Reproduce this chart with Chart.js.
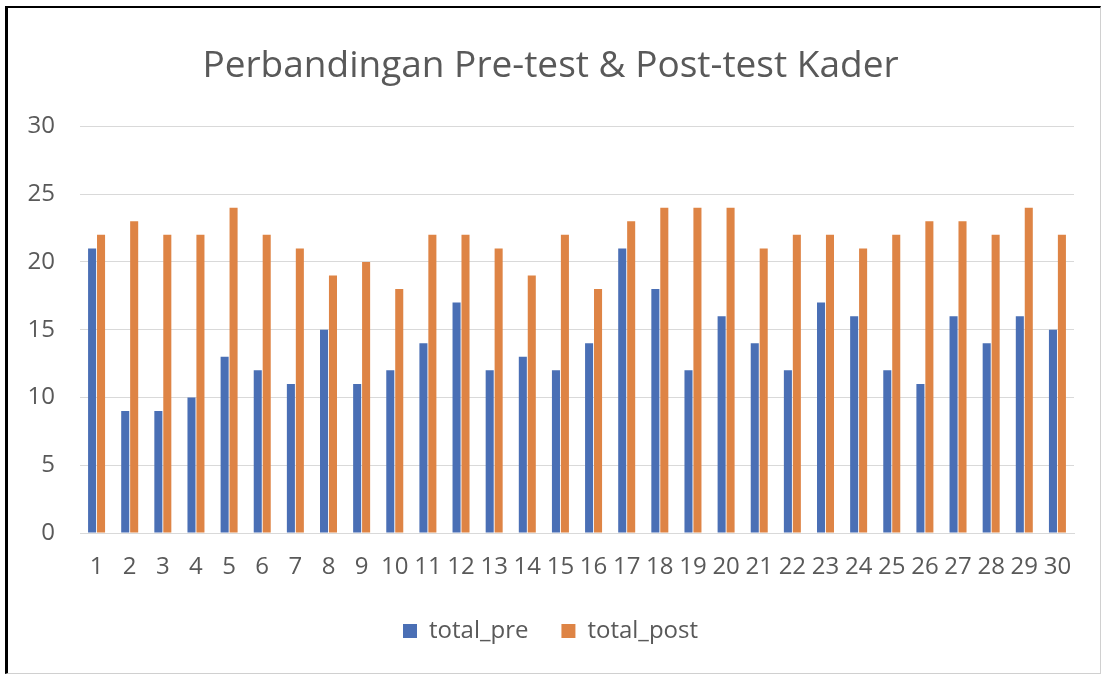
<!DOCTYPE html>
<html>
<head>
<meta charset="utf-8">
<script src="https://cdn.jsdelivr.net/npm/chart.js@4"></script>
<style>
    html, body { margin: 0; padding: 0; background: #fff; }
    #frame {
        position: absolute; left: 5px; top: 6px; width: 1092px; height: 665px;
        border-left: 3px solid #000; border-top: 2px solid #000;
        border-right: 1px solid #d0d0d0; border-bottom: 1px solid #d0d0d0;
    }
    #wrap { position: absolute; left: 0; top: 0; width: 1102px; height: 675px; }
</style>
</head>
<body>
<div id="frame"></div>
<div id="wrap"><canvas id="kaderChart" width="1102" height="675"></canvas></div>
<script>
// nilai dibaca dari gambar referensi
const respondents = ['1','2','3','4','5','6','7','8','9','10','11','12','13','14','15',
                     '16','17','18','19','20','21','22','23','24','25','26','27','28','29','30'];
const totalPre  = [21, 9, 9, 10, 13, 12, 11, 15, 11, 12, 14, 17, 12, 13, 12,
                   14, 21, 18, 12, 16, 14, 12, 17, 16, 12, 11, 16, 14, 16, 15];
const totalPost = [22, 23, 22, 22, 24, 22, 21, 19, 20, 18, 22, 22, 21, 19, 22,
                   18, 23, 24, 24, 24, 21, 22, 22, 21, 22, 23, 23, 22, 24, 22];

const textGrey = '#595959';
const gridGrey = '#d9d9d9';
const fontFamily = '"Open Sans", "Noto Sans", sans-serif';

const ctx = document.getElementById('kaderChart').getContext('2d');
new Chart(ctx, {
    type: 'bar',
    data: {
        labels: respondents,
        datasets: [
            {
                label: 'total_pre',
                data: totalPre,
                backgroundColor: '#4A6FB5',
                barPercentage: 0.9,
                categoryPercentage: 0.54
            },
            {
                label: 'total_post',
                data: totalPost,
                backgroundColor: '#DE8445',
                barPercentage: 0.9,
                categoryPercentage: 0.54
            }
        ]
    },
    options: {
        responsive: false,
        animation: false,
        layout: {
            padding: { left: 27, right: 28, top: 44, bottom: 22 }
        },
        plugins: {
            title: {
                display: true,
                text: 'Perbandingan Pre-test & Post-test Kader',
                color: textGrey,
                font: { family: fontFamily, size: 37, weight: 'normal' },
                padding: { top: 0, bottom: 38 }
            },
            legend: {
                position: 'bottom',
                labels: {
                    color: textGrey,
                    boxWidth: 14,
                    boxHeight: 14,
                    padding: 33,
                    font: { family: fontFamily, size: 24 }
                }
            },
            tooltip: { enabled: false }
        },
        scales: {
            x: {
                grid: { display: false, drawTicks: false },
                border: { display: true, color: gridGrey },
                ticks: {
                    color: textGrey,
                    maxRotation: 0,
                    autoSkip: false,
                    padding: 20,
                    font: { family: fontFamily, size: 24 }
                },
                afterFit: (scale) => { scale.height = 53; }
            },
            y: {
                min: 0,
                max: 30,
                grid: { color: gridGrey, drawTicks: false },
                border: { display: false },
                ticks: {
                    stepSize: 5,
                    color: textGrey,
                    padding: 25,
                    font: { family: fontFamily, size: 24 }
                },
                afterFit: (scale) => { scale.width = 53; }
            }
        }
    }
});
</script>
</body>
</html>
